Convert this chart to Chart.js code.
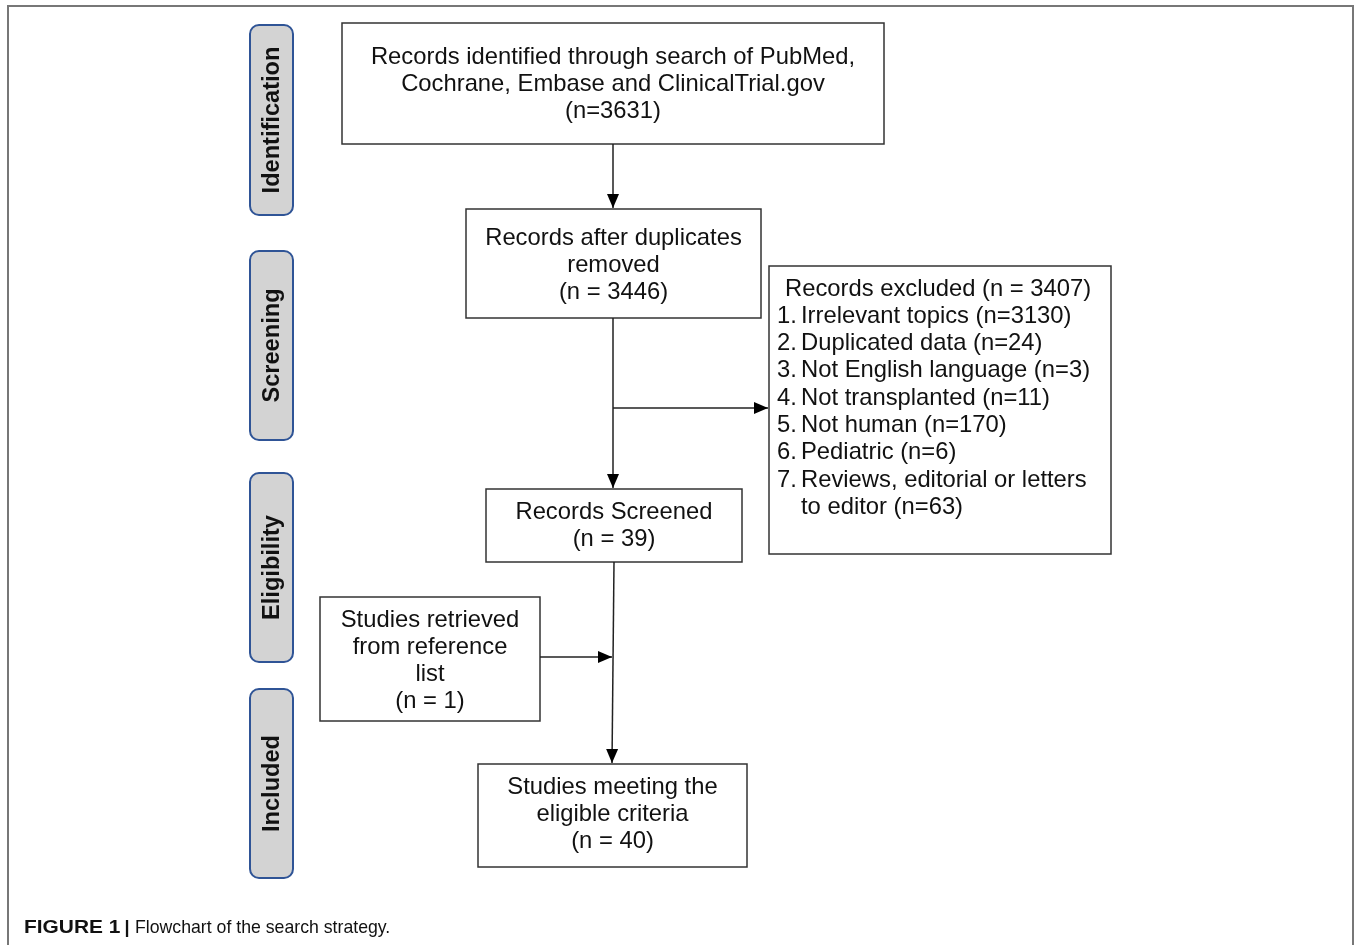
<!DOCTYPE html>
<html>
<head>
<meta charset="utf-8">
<script src="https://cdn.jsdelivr.net/npm/chart.js@4.4.1/dist/chart.umd.min.js"></script>
<style>
  html, body { margin: 0; padding: 0; background: #fff; }
  #flow { display: block; }
</style>
</head>
<body>
<canvas id="flow" width="1356" height="945"></canvas>
<script>
// flowchart content
const stages = ['Identification', 'Screening', 'Eligibility', 'Included'];
const identifiedCount = 3631;
const afterDuplicatesCount = 3446;
const excludedCount = 3407;
const screenedCount = 39;
const fromReferencesCount = 1;
const includedCount = 40;
const exclusionReasons = ['Irrelevant topics', 'Duplicated data', 'Not English language',
    'Not transplanted', 'Not human', 'Pediatric', ['Reviews, editorial or letters', 'to editor']];
const exclusionCounts = [3130, 24, 3, 11, 170, 6, 63];

// layout (page pixels)
const stageBoxes = [[250, 25, 293, 215], [250, 251, 293, 440], [250, 473, 293, 662], [250, 689, 293, 878]];
const boxes = [
    { r: [342, 23, 884, 144], lines: ['Records identified through search of PubMed,', 'Cochrane, Embase and ClinicalTrial.gov', `(n=${identifiedCount})`], y0: 57 },
    { r: [466, 209, 761, 318], lines: ['Records after duplicates', 'removed', `(n = ${afterDuplicatesCount})`], y0: 238 },
    { r: [486, 489, 742, 562], lines: ['Records Screened', `(n = ${screenedCount})`], y0: 512 },
    { r: [320, 597, 540, 721], lines: ['Studies retrieved', 'from reference', 'list', `(n = ${fromReferencesCount})`], y0: 620 },
    { r: [478, 764, 747, 867], lines: ['Studies meeting the', 'eligible criteria', `(n = ${includedCount})`], y0: 787 }
];
const excludedBox = [769, 266, 1111, 554];
const connectors = [
    [[613, 144], [613, 208]],
    [[613, 318], [613, 488]],
    [[613, 408], [768, 408]],
    [[614, 562], [612, 763]],
    [[540, 657], [612, 657]]
];
const LINE_H = 27.3;
const FONT = '"Liberation Sans", Arial, Helvetica, sans-serif';

const flowPlugin = {
    id: 'flow',
    beforeDatasetsDraw(chart) {
        const ctx = chart.ctx;
        const sx = v => chart.scales.x.getPixelForValue(v);
        const sy = v => chart.scales.y.getPixelForValue(v);

        // outer frame
        ctx.save();
        ctx.strokeStyle = '#777';
        ctx.lineWidth = 2;
        ctx.beginPath();
        ctx.moveTo(sx(8), sy(945));
        ctx.lineTo(sx(8), sy(6));
        ctx.lineTo(sx(1353), sy(6));
        ctx.lineTo(sx(1353), sy(945));
        ctx.stroke();

        // stage labels
        stageBoxes.forEach((b, i) => {
            const x = sx(b[0]), y = sy(b[1]), w = sx(b[2]) - x, h = sy(b[3]) - y;
            ctx.beginPath();
            ctx.roundRect(x, y, w, h, 9);
            ctx.fillStyle = '#d3d3d3';
            ctx.fill();
            ctx.strokeStyle = '#2f5496';
            ctx.lineWidth = 2;
            ctx.stroke();
            ctx.save();
            ctx.translate(x + w / 2 + 1, y + h / 2);
            ctx.rotate(-Math.PI / 2);
            ctx.fillStyle = '#111';
            ctx.font = 'bold 23.6px ' + FONT;
            ctx.textAlign = 'center';
            ctx.textBaseline = 'middle';
            ctx.fillText(stages[i], 0, 0);
            ctx.restore();
        });

        // text boxes
        ctx.font = '23.8px ' + FONT;
        ctx.fillStyle = '#111';
        ctx.textBaseline = 'middle';
        boxes.forEach(b => {
            const x = sx(b.r[0]), y = sy(b.r[1]), w = sx(b.r[2]) - x, h = sy(b.r[3]) - y;
            ctx.strokeStyle = '#333';
            ctx.lineWidth = 1.5;
            ctx.strokeRect(x, y, w, h);
            ctx.textAlign = 'center';
            b.lines.forEach((t, j) => ctx.fillText(t, x + w / 2, sy(b.y0 + j * LINE_H)));
        });

        // excluded box with numbered list
        const ex = excludedBox;
        ctx.strokeRect(sx(ex[0]), sy(ex[1]), sx(ex[2]) - sx(ex[0]), sy(ex[3]) - sy(ex[1]));
        ctx.textAlign = 'left';
        ctx.fillText(`Records excluded (n = ${excludedCount})`, sx(785), sy(289));
        let row = 1;
        exclusionReasons.forEach((reason, i) => {
            const parts = Array.isArray(reason) ? reason.slice() : [reason];
            parts[parts.length - 1] += ` (n=${exclusionCounts[i]})`;
            ctx.fillText(`${i + 1}.`, sx(777), sy(289 + row * LINE_H));
            parts.forEach(p => {
                ctx.fillText(p, sx(801), sy(289 + row * LINE_H));
                row++;
            });
        });
        ctx.restore();
    },
    afterDatasetsDraw(chart) {
        const ctx = chart.ctx;
        ctx.save();
        ctx.fillStyle = '#000';
        chart.data.datasets.forEach((ds, i) => {
            const pts = chart.getDatasetMeta(i).data;
            const a = pts[pts.length - 2], b = pts[pts.length - 1];
            const ang = Math.atan2(b.y - a.y, b.x - a.x);
            const len = 14, half = 6;
            ctx.save();
            ctx.translate(b.x, b.y);
            ctx.rotate(ang);
            ctx.beginPath();
            ctx.moveTo(0, 0);
            ctx.lineTo(-len, -half);
            ctx.lineTo(-len, half);
            ctx.closePath();
            ctx.fill();
            ctx.restore();
        });

        // caption (bold part is a wide face in the original, so stretch it a bit)
        ctx.fillStyle = '#111';
        ctx.textAlign = 'left';
        ctx.textBaseline = 'alphabetic';
        ctx.font = 'bold 18px ' + FONT;
        ctx.save();
        ctx.translate(24, 933);
        ctx.scale(1.16, 1);
        ctx.fillText('FIGURE 1', 0, 0);
        ctx.restore();
        ctx.fillText('|', 124.5, 933);
        ctx.font = '17.7px ' + FONT;
        ctx.fillText('Flowchart of the search strategy.', 135, 933);
        ctx.restore();
    }
};

new Chart(document.getElementById('flow'), {
    type: 'scatter',
    data: {
        datasets: connectors.map(c => ({
            data: c.map(p => ({ x: p[0], y: p[1] })),
            showLine: true,
            borderColor: '#222',
            borderWidth: 1.5,
            pointRadius: 0,
            clip: false
        }))
    },
    options: {
        responsive: false,
        animation: false,
        layout: { padding: 0 },
        plugins: { legend: { display: false }, tooltip: { enabled: false } },
        scales: {
            x: { type: 'linear', min: 0, max: 1356, display: false },
            y: { type: 'linear', min: 0, max: 945, reverse: true, display: false }
        }
    },
    plugins: [flowPlugin]
});
</script>
</body>
</html>
